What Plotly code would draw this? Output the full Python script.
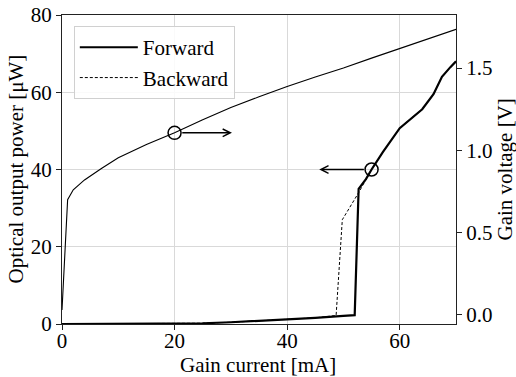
import plotly.graph_objects as go

# Gain voltage curve (right axis)
current_v = [0, 1, 2, 4, 7, 10, 15, 20, 25, 30, 35, 40, 45, 50, 55, 60, 65, 70]
voltage = [0.03, 0.70, 0.76, 0.82, 0.89, 0.955, 1.035, 1.106, 1.185, 1.26, 1.325, 1.388,
           1.445, 1.50, 1.56, 1.617, 1.675, 1.735]

# Optical output power, forward sweep (left axis)
current_f = [0, 10, 20, 25, 30, 35, 40, 45, 50, 52, 52.7, 54, 55, 57, 60, 62, 64, 66, 67.5, 69, 70]
power_f = [0, 0.02, 0.1, 0.2, 0.45, 0.8, 1.1, 1.6, 2.1, 2.3, 35, 37.5, 40, 44.5, 50.7, 53.2,
           55.6, 59.5, 64, 66.5, 68]

# Backward sweep
current_b = [0, 10, 20, 25, 30, 35, 40, 45, 48.7, 49.8, 52.7, 54, 55, 57, 60, 62, 64, 66, 67.5, 69, 70]
power_b = [0, 0.02, 0.1, 0.2, 0.45, 0.8, 1.1, 1.6, 2.2, 27, 34, 37.5, 40, 44.5, 50.7, 53.2,
           55.6, 59.5, 64, 66.5, 68]

# Marker circles and arrow targets
circle_v = (20, 49.5)      # on voltage curve, in left-axis units
arrow_v_to = 30.2
circle_p = (55, 40)        # on power curve
arrow_p_to = 45.7

x_ticks = [0, 20, 40, 60]
y_ticks = [0, 20, 40, 60, 80]
y2_ticks = [0.0, 0.5, 1.0, 1.5]

FONT = "Liberation Serif"
FS = 21
AX = "#222222"

fig = go.Figure()
fig.add_trace(go.Scatter(x=current_b, y=power_b, mode="lines", name="Backward",
                         line=dict(color="black", width=1, dash="3px,2px"), showlegend=True))
fig.add_trace(go.Scatter(x=current_f, y=power_f, mode="lines", name="Forward",
                         line=dict(color="black", width=2.2)))
fig.add_trace(go.Scatter(x=current_v, y=voltage, mode="lines", name="Voltage", yaxis="y2",
                         line=dict(color="black", width=1.1), showlegend=False))
fig.add_trace(go.Scatter(x=[circle_v[0], circle_p[0]], y=[circle_v[1], circle_p[1]],
                         mode="markers", showlegend=False,
                         marker=dict(symbol="circle-open", size=13, color="black",
                                     line=dict(width=1.5))))

fig.add_annotation(x=arrow_v_to, y=circle_v[1], ax=circle_v[0] + 1.1, ay=circle_v[1],
                   xref="x", yref="y", axref="x", ayref="y", showarrow=True,
                   arrowhead=5, arrowsize=1.0, arrowwidth=1.5, arrowcolor="black", text="")
fig.add_annotation(x=arrow_p_to, y=circle_p[1], ax=circle_p[0] - 1.1, ay=circle_p[1],
                   xref="x", yref="y", axref="x", ayref="y", showarrow=True,
                   arrowhead=5, arrowsize=1.0, arrowwidth=1.5, arrowcolor="black", text="")

# Axis titles placed as annotations
fig.add_annotation(text="Optical output power [μW]", xref="paper", yref="paper",
                   x=(15 - 62) / 394, y=0.5, textangle=-90, showarrow=False,
                   xanchor="center", yanchor="middle", font=dict(family=FONT, size=FS))
fig.add_annotation(text="Gain voltage [V]", xref="paper", yref="paper",
                   x=1 + (504 - 456) / 394, y=0.5, textangle=-90, showarrow=False,
                   xanchor="center", yanchor="middle", font=dict(family=FONT, size=FS))
fig.add_annotation(text="Gain current [mA]", xref="paper", yref="paper",
                   x=(258 - 62) / 394, y=-(365 - 324) / 309, showarrow=False,
                   xanchor="center", yanchor="middle", font=dict(family=FONT, size=FS))

fig.update_layout(
    width=516, height=377,
    margin=dict(l=62, r=60, t=15, b=53),
    paper_bgcolor="white", plot_bgcolor="white",
    font=dict(family=FONT, size=FS, color="black"),
    legend=dict(x=0.03, y=0.964, xanchor="left", yanchor="top",
                bgcolor="rgba(255,255,255,0.85)", bordercolor="#d0d0d0", borderwidth=1,
                font=dict(family=FONT, size=FS), traceorder="reversed", tracegroupgap=0,
                itemwidth=58),
    xaxis=dict(range=[0, 70], tickvals=x_ticks, showgrid=True, gridcolor="#d9d9d9",
               gridwidth=1, zeroline=False, showline=True, linecolor=AX, linewidth=1,
               mirror=True, ticks="outside", ticklen=5, tickcolor=AX, automargin=False,
               ticklabelstandoff=-7, tickfont=dict(family=FONT, size=FS)),
    yaxis=dict(range=[0, 80], tickvals=y_ticks, showgrid=True, gridcolor="#d9d9d9",
               gridwidth=1, zeroline=False, showline=True, linecolor=AX, linewidth=1,
               ticks="outside", ticklen=5, tickcolor=AX, automargin=False,
               tickfont=dict(family=FONT, size=FS)),
    yaxis2=dict(range=[-0.055, 1.822], tickvals=y2_ticks, tickformat=".1f", overlaying="y",
                side="right", showgrid=False, zeroline=False, showline=True, linecolor=AX,
                linewidth=1, ticks="outside", ticklen=5, tickcolor=AX, automargin=False,
                tickfont=dict(family=FONT, size=FS)),
)

fig.write_html("out.html", config={"displayModeBar": False},
               post_script="document.body.style.margin='0';")
